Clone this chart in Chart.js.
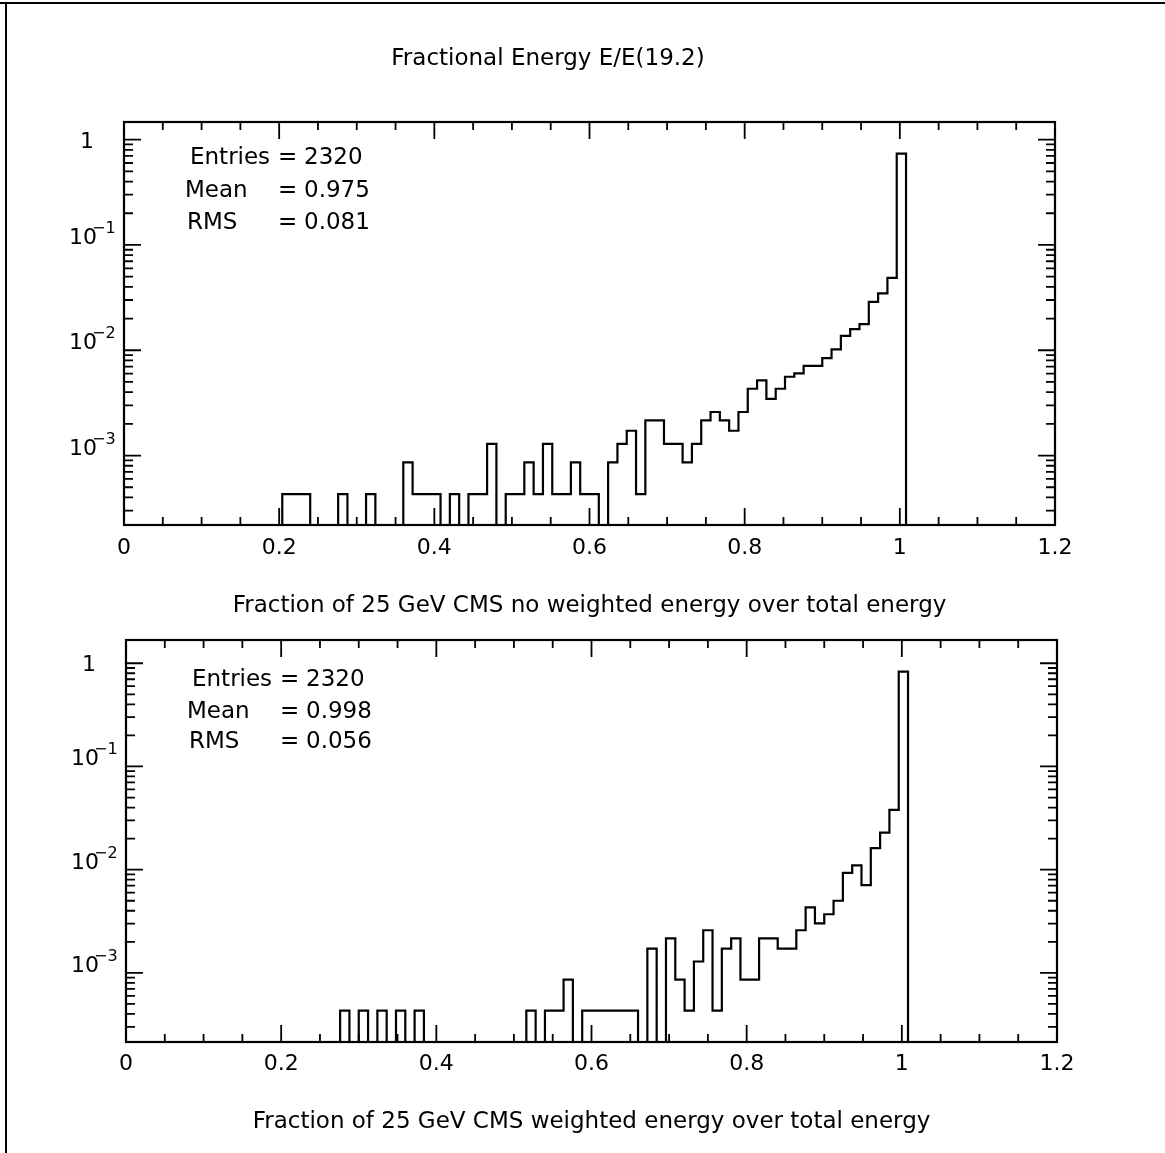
<!DOCTYPE html>
<html><head><meta charset="utf-8">
<script src="https://cdn.jsdelivr.net/npm/chart.js@4.4.1/dist/chart.umd.min.js"></script>
<style>
html,body{margin:0;padding:0;background:#fff;}
body{width:1165px;height:1153px;position:relative;overflow:hidden;}
canvas{position:absolute;left:0;}
#c1{top:0;} #c2{top:625px;}
.bt{position:absolute;left:0;top:2px;width:1165px;height:2px;background:#000;}
.bl{position:absolute;left:5px;top:2px;width:2px;height:1151px;background:#000;}
</style></head><body>
<div class="bt"></div><div class="bl"></div>
<canvas id="c1" width="1165" height="625"></canvas>
<canvas id="c2" width="1165" height="528"></canvas>
<script>
// ---------------- data ----------------
const TITLE = "Fractional Energy E/E(19.2)";
const X_TITLE_1 = "Fraction of 25 GeV CMS no weighted energy over total energy";
const X_TITLE_2 = "Fraction of 25 GeV CMS weighted energy over total energy";
const X_TICKS = [0, 0.2, 0.4, 0.6, 0.8, 1, 1.2];
const Y_DECADE_EXPONENTS = [0, -1, -2, -3];
const BIN_LOW = 0, BIN_WIDTH = 0.012;   // 100 bins from 0 to 1.2

const STATS_1 = [["Entries", "2320"], ["Mean", "0.975"], ["RMS", "0.081"]];
const STATS_2 = [["Entries", "2320"], ["Mean", "0.998"], ["RMS", "0.056"]];

// fraction of entries per bin (bins of 0.012)
const noWeighted = [
  0, 0, 0, 0, 0, 0, 0, 0, 0, 0,
  0, 0, 0, 0, 0, 0, 0, 0.00043, 0.00043, 0.00043,
  0, 0, 0, 0.00043, 0, 0, 0.00043, 0, 0, 0,
  0.00086, 0.00043, 0.00043, 0.00043, 0, 0.00043, 0, 0.00043, 0.00043, 0.00129,
  0, 0.00043, 0.00043, 0.00086, 0.00043, 0.00129, 0.00043, 0.00043, 0.00086, 0.00043,
  0.00043, 0, 0.00086, 0.00129, 0.00172, 0.00043, 0.00216, 0.00216, 0.00129, 0.00129,
  0.00086, 0.00129, 0.00216, 0.00259, 0.00216, 0.00172, 0.00259, 0.00431, 0.00517, 0.00345,
  0.00431, 0.0056, 0.00603, 0.0071, 0.0071, 0.0084, 0.0102, 0.0137, 0.0159, 0.0177,
  0.0288, 0.0346, 0.0486, 0.736, 0, 0, 0, 0, 0, 0,
  0, 0, 0, 0, 0, 0, 0, 0, 0, 0
];
const weighted = [
  0, 0, 0, 0, 0, 0, 0, 0, 0, 0,
  0, 0, 0, 0, 0, 0, 0, 0, 0, 0,
  0, 0, 0, 0.00043, 0, 0.00043, 0, 0.00043, 0, 0.00043,
  0, 0.00043, 0, 0, 0, 0, 0, 0, 0, 0,
  0, 0, 0, 0.00043, 0, 0.00043, 0.00043, 0.00086, 0, 0.00043,
  0.00043, 0.00043, 0.00043, 0.00043, 0.00043, 0, 0.00172, 0, 0.00216, 0.00086,
  0.00043, 0.00129, 0.00259, 0.00043, 0.00172, 0.00216, 0.00086, 0.00086, 0.00216, 0.00216,
  0.00172, 0.00172, 0.00259, 0.00431, 0.00302, 0.0037, 0.0050, 0.0093, 0.0110, 0.0071,
  0.0162, 0.0229, 0.0380, 0.829, 0, 0, 0, 0, 0, 0,
  0, 0, 0, 0, 0, 0, 0, 0, 0, 0
];

// ---------------- rendering ----------------
Chart.defaults.font.family = "'DejaVu Sans', sans-serif";
Chart.defaults.color = '#000';
const FONT = "'DejaVu Sans', sans-serif";
const EMPTY = 1e-7; // empty bins fall below the axis floor

function stepData(vals) {
  const pts = vals.map((v, i) => ({x: BIN_LOW + i * BIN_WIDTH, y: v > 0 ? v : EMPTY}));
  const last = vals[vals.length - 1];
  pts.push({x: BIN_LOW + vals.length * BIN_WIDTH, y: last > 0 ? last : EMPTY});
  return pts;
}

const decor = {
  id: 'decor',
  afterDatasetsDraw(chart, args, o) {
    const {ctx, chartArea: a} = chart;
    const xs = chart.scales.x, ys = chart.scales.y;
    ctx.save();
    ctx.strokeStyle = '#000'; ctx.fillStyle = '#000';
    ctx.lineWidth = 2.2;
    ctx.strokeRect(a.left, a.top, a.right - a.left, a.bottom - a.top);
    ctx.lineWidth = 1.8;
    ctx.beginPath();
    for (let k = 0; k <= 24; k++) {
      const px = xs.getPixelForValue(k * 0.05);
      const len = (k % 4 === 0) ? 17 : 8;
      ctx.moveTo(px, a.bottom); ctx.lineTo(px, a.bottom - len);
      ctx.moveTo(px, a.top); ctx.lineTo(px, a.top + len);
    }
    for (let d = -4; d <= 0; d++) {
      for (let m = 1; m <= 9; m++) {
        const v = m * Math.pow(10, d);
        if (v < ys.min || v > ys.max) continue;
        const py = ys.getPixelForValue(v);
        const len = (m === 1) ? 17 : 9;
        ctx.moveTo(a.left, py); ctx.lineTo(a.left + len, py);
        ctx.moveTo(a.right, py); ctx.lineTo(a.right - len, py);
      }
    }
    ctx.stroke();

    // y labels
    ctx.textBaseline = 'alphabetic';
    for (const e of Y_DECADE_EXPONENTS) {
      const py = ys.getPixelForValue(Math.pow(10, e));
      if (e === 0) {
        ctx.font = '22px ' + FONT; ctx.textAlign = 'right';
        ctx.fillText('1', a.left - 30, py + 8);
      } else {
        ctx.font = '22px ' + FONT; ctx.textAlign = 'right';
        ctx.fillText('10', a.left - 27, py - 1);
        ctx.font = '16px ' + FONT; ctx.textAlign = 'left';
        ctx.fillText('\u2212' + (-e), a.left - 32, py - 12);
      }
    }

    // statistics box text
    ctx.font = '23px ' + FONT;
    ctx.textAlign = 'left';
    o.stats.forEach((s, i) => {
      const by = a.top + o.statY[i];
      ctx.fillText(s[0], a.left + o.statX[i], by);
      ctx.fillText('=', a.left + 154, by);
      ctx.fillText(s[1], a.left + 180, by);
    });

    if (o.mainTitle) {
      ctx.font = '23px ' + FONT;
      ctx.textAlign = 'center';
      ctx.fillText(o.mainTitle, 548, 65);
    }
    ctx.restore();
  }
};

function makeChart(id, vals, cfg) {
  return new Chart(document.getElementById(id), {
    type: 'line',
    data: {datasets: [{
      data: stepData(vals),
      stepped: true,
      borderColor: '#000',
      borderWidth: 2.2,
      pointRadius: 0,
      fill: false,
      tension: 0,
      borderJoinStyle: 'miter'
    }]},
    options: {
      responsive: false,
      animation: false,
      devicePixelRatio: 1,
      layout: {padding: {top: cfg.padTop, right: cfg.padRight, left: 0, bottom: 0}},
      plugins: {
        legend: {display: false},
        tooltip: {enabled: false},
        decor: {stats: cfg.stats, statX: [66, 61, 63], statY: cfg.statY, mainTitle: cfg.mainTitle}
      },
      scales: {
        x: {
          type: 'linear', min: 0, max: 1.2,
          grid: {display: false, drawTicks: false},
          border: {display: false},
          afterBuildTicks: s => { s.ticks = X_TICKS.map(v => ({value: v})); },
          afterFit: s => { s.height = cfg.xHeight; },
          ticks: {
            padding: cfg.tickPad,
            font: {size: 22},
            color: '#000',
            maxRotation: 0,
            callback: v => String(Number(v.toFixed(1)))
          },
          title: {display: true, text: cfg.xTitle, font: {size: 23}, color: '#000',
                  padding: {top: 0, bottom: cfg.titlePad}}
        },
        y: {
          type: 'logarithmic', min: cfg.yMin, max: cfg.yMax,
          grid: {display: false, drawTicks: false},
          border: {display: false},
          ticks: {display: false},
          afterFit: s => { s.width = cfg.yWidth; }
        }
      }
    },
    plugins: [decor]
  });
}

makeChart('c1', noWeighted, {
  padTop: 122, padRight: 110, yWidth: 124, xHeight: 100,
  yMin: 2.19e-4, yMax: 1.47, xTitle: X_TITLE_1, titlePad: 5, tickPad: 10,
  stats: STATS_1, statY: [42, 75, 107], mainTitle: TITLE
});
makeChart('c2', weighted, {
  padTop: 15, padRight: 108, yWidth: 126, xHeight: 111,
  yMin: 2.14e-4, yMax: 1.68, xTitle: X_TITLE_2, titlePad: 17, tickPad: 9,
  stats: STATS_2, statY: [46, 78, 108], mainTitle: null
});
</script>
</body></html>
